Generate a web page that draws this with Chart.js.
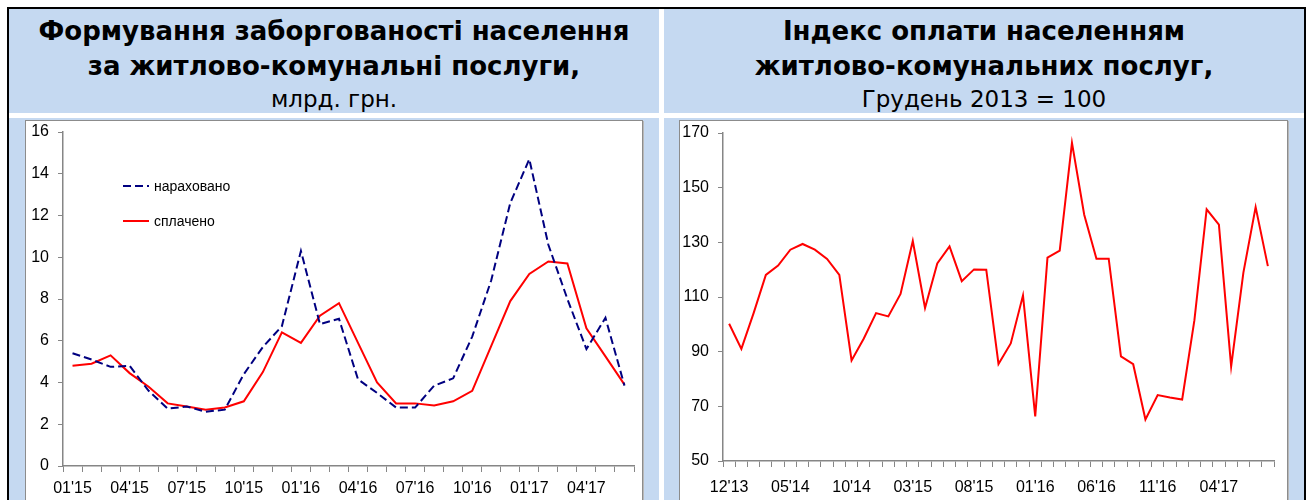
<!DOCTYPE html>
<html><head><meta charset="utf-8">
<script src="https://cdn.jsdelivr.net/npm/chart.js@4.4.0/dist/chart.umd.min.js"></script>
<style>
html,body{margin:0;padding:0;background:#fff;width:1309px;height:500px;overflow:hidden;}
.abs{position:absolute;}
#frame{left:7px;top:7px;width:1295px;height:520px;border-left:2px solid #000;border-top:2px solid #000;border-right:2px solid #000;background:#C5D9F1;}
#vstrip{left:659px;top:9px;width:5px;height:500px;background:#fff;}
#hstrip{left:9px;top:113px;width:1295px;height:5px;background:#fff;}
.box{background:#fff;border:1px solid #8c8c8c;box-shadow:1px 1px 0 #b8b8b8;}
.t1{font-family:"DejaVu Sans",sans-serif;font-weight:bold;font-size:26px;color:#000;text-align:center;white-space:nowrap;line-height:34px;}
.t2{font-family:"DejaVu Sans",sans-serif;font-size:23px;color:#000;text-align:center;white-space:nowrap;line-height:28px;}
canvas{display:block;}
</style></head>
<body>
<div id="frame" class="abs"></div>
<div id="vstrip" class="abs"></div>
<div id="hstrip" class="abs"></div>

<div class="abs t1" style="left:9px;width:650px;top:14px;">Формування заборгованості населення</div>
<div class="abs t1" style="left:9px;width:650px;top:49px;">за житлово-комунальні послуги,</div>
<div class="abs t2" style="left:9px;width:650px;top:85px;">млрд. грн.</div>

<div class="abs t1" style="left:664px;width:640px;top:14px;">Індекс оплати населенням</div>
<div class="abs t1" style="left:664px;width:640px;top:49px;">житлово-комунальних послуг,</div>
<div class="abs t2" style="left:664px;width:640px;top:85px;">Грудень 2013 = 100</div>

<div class="abs box" style="left:25px;top:120px;width:616px;height:400px;">
  <canvas id="c1" width="616" height="380" style="width:616px;height:380px;"></canvas>
</div>
<div class="abs box" style="left:679px;top:120px;width:607px;height:400px;">
  <canvas id="c2" width="607" height="380" style="width:607px;height:380px;"></canvas>
</div>

<script>
// ---- Left chart data ----
const debtMonths = ["01'15","02'15","03'15","04'15","05'15","06'15","07'15","08'15","09'15","10'15","11'15","12'15",
  "01'16","02'16","03'16","04'16","05'16","06'16","07'16","08'16","09'16","10'16","11'16","12'16",
  "01'17","02'17","03'17","04'17","05'17","06'17"];
const accrued = [5.4,5.1,4.75,4.8,3.6,2.75,2.85,2.6,2.7,4.4,5.7,6.7,
  10.3,6.8,7.05,4.15,3.5,2.8,2.8,3.85,4.2,6.2,8.9,12.6,
  14.7,10.6,8.0,5.6,7.1,3.85];
const paid = [4.8,4.9,5.3,4.45,3.8,3.0,2.85,2.7,2.8,3.1,4.5,6.4,
  5.9,7.2,7.8,5.9,4.0,3.0,3.0,2.9,3.1,3.6,5.75,7.9,
  9.2,9.8,9.7,6.6,5.25,3.9];
const debtYTicks = [0,2,4,6,8,10,12,14,16];
const debtLabelStep = 3;

// ---- Right chart data ----
const indexMonths = ["12'13","01'14","02'14","03'14","04'14","05'14","06'14","07'14","08'14","09'14","10'14","11'14",
  "12'14","01'15","02'15","03'15","04'15","05'15","06'15","07'15","08'15","09'15","10'15","11'15",
  "12'15","01'16","02'16","03'16","04'16","05'16","06'16","07'16","08'16","09'16","10'16","11'16",
  "12'16","01'17","02'17","03'17","04'17","05'17","06'17","07'17","08'17"];
const paymentIndex = [100.2,91.0,104.1,118.1,121.5,127.3,129.4,127.3,123.9,118.1,86.8,94.8,
  104.1,102.9,111.1,130.5,106.0,122.3,128.5,115.8,120.1,120.0,85.5,93.0,
  110.6,66.3,124.4,127.0,166.4,140.1,124.0,124.0,88.3,85.4,65.2,74.1,
  73.2,72.5,101.5,142.1,136.5,84.6,118.9,142.9,121.3];
const indexYTicks = [50,70,90,110,130,150,170];
const indexLabelStep = 5;

const tickFont = {family: "'Liberation Sans', Arial, sans-serif", size: 16};
const axisGrey = '#868686';

const insideLegend = {
  id: 'insideLegend',
  afterDraw(chart, args, opts) {
    const ctx = chart.ctx;
    ctx.save();
    chart.data.datasets.forEach((ds, i) => {
      const y = opts.y + i * opts.gap;
      ctx.beginPath();
      ctx.strokeStyle = ds.borderColor;
      ctx.lineWidth = ds.borderWidth;
      ctx.setLineDash(ds.borderDash || []);
      ctx.moveTo(opts.x, y);
      ctx.lineTo(opts.x + opts.len, y);
      ctx.stroke();
      ctx.setLineDash([]);
      ctx.fillStyle = '#000';
      ctx.font = opts.font;
      ctx.textBaseline = 'middle';
      ctx.fillText(ds.label, opts.x + opts.len + 5, y + 1);
    });
    ctx.restore();
  }
};

function makeScales(labels, yTicks, step, yWidth, xHeight, xPad) {
  return {
    x: {
      type: 'category',
      offset: true,
      grid: {offset: true, drawOnChartArea: false, drawTicks: true, tickLength: 6, color: axisGrey, lineWidth: 1},
      border: {color: axisGrey, width: 1.5},
      ticks: {autoSkip: false, maxRotation: 0, minRotation: 0, color: '#000', font: tickFont, padding: xPad,
        callback: (v, i) => (i % step === 0 ? labels[i] : '')},
      afterFit: s => { s.height = xHeight; s.paddingLeft = 0; s.paddingRight = 0; }
    },
    y: {
      min: yTicks[0], max: yTicks[yTicks.length - 1],
      afterBuildTicks: s => { s.ticks = yTicks.map(v => ({value: v})); },
      grid: {drawOnChartArea: false, drawTicks: true, tickLength: 5, color: axisGrey},
      border: {color: axisGrey, width: 1.5},
      ticks: {color: '#000', font: tickFont, padding: 9},
      afterFit: s => { s.width = yWidth; s.paddingTop = 0; s.paddingBottom = 0; }
    }
  };
}

new Chart(document.getElementById('c1'), {
  type: 'line',
  data: {
    labels: debtMonths,
    datasets: [
      {label: 'нараховано', data: accrued, borderColor: '#000080', borderWidth: 2, borderDash: [8, 4], pointRadius: 0, tension: 0, fill: false},
      {label: 'сплачено', data: paid, borderColor: '#FF0000', borderWidth: 2, pointRadius: 0, tension: 0, fill: false}
    ]
  },
  options: {
    responsive: false, animation: false,
    layout: {padding: {left: 0, top: 11, right: 8, bottom: 0}},
    plugins: {legend: {display: false}, tooltip: {enabled: false},
      insideLegend: {x: 97, y: 65, gap: 35, len: 26, font: "14px 'Liberation Sans', Arial, sans-serif"}},
    scales: makeScales(debtMonths, debtYTicks, debtLabelStep, 37, 35, 7)
  },
  plugins: [insideLegend]
});

new Chart(document.getElementById('c2'), {
  type: 'line',
  data: {
    labels: indexMonths,
    datasets: [
      {label: 'Індекс оплати', data: paymentIndex, borderColor: '#FF0000', borderWidth: 2, pointRadius: 0, tension: 0, fill: false}
    ]
  },
  options: {
    responsive: false, animation: false,
    layout: {padding: {left: 0, top: 12, right: 13, bottom: 0}},
    plugins: {legend: {display: false}, tooltip: {enabled: false}},
    scales: makeScales(indexMonths, indexYTicks, indexLabelStep, 43, 40, 11)
  }
});
</script>
</body></html>
